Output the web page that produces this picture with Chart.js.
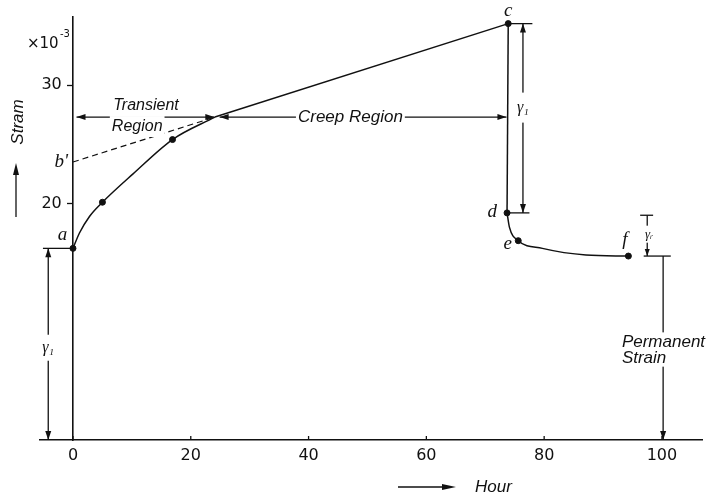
<!DOCTYPE html>
<html lang="en">
<head>
  <meta charset="UTF-8" />
  <title>Creep curve – strain vs hour</title>
  <script src="https://cdn.jsdelivr.net/npm/chart.js"></script>
  <style>
    html,body { margin:0; padding:0; background:#fff; }
    #chart    { display:block; }
  </style>
</head>
<body>
<canvas id="chart" width="707" height="500"></canvas>

<script>
  /* ---------- data (hour, strain x10^-3) ---------- */
  const transientHour   = [0, 1.1, 2.8, 5.0, 10.2, 16.9, 24.1];
  const transientStrain = [16.2, 17.5, 18.9, 20.1, 22.5, 25.4, 27.3];
  const creepHour       = [24.1, 73.9];
  const creepStrain     = [27.3, 35.2];
  const unloadHour      = [73.9, 73.7];
  const unloadStrain    = [35.2, 19.2];
  const recoveryHour    = [73.7, 74.1, 75.6, 79.7, 87.1, 94.3];
  const recoveryStrain  = [19.2, 18.0, 16.85, 16.2, 15.64, 15.55];
  const tangentHour     = [0, 24.1];
  const tangentStrain   = [23.5, 27.3];
  const markHour        = [0, 5.0, 16.9, 73.9, 73.7, 75.6, 94.3];
  const markStrain      = [16.2, 20.1, 25.4, 35.2, 19.2, 16.85, 15.55];
  const xTicks = [0, 20, 40, 60, 80, 100];
  const yTicks = [20, 30];

  const pts = (xs, ys) => xs.map((v, i) => ({ x: v, y: ys[i] }));
  const INK = '#111';
  const SANS = '"Liberation Sans", "DejaVu Sans", sans-serif';
  const DEJA = '"DejaVu Sans", sans-serif';
  const SERIF = '"Liberation Serif", "DejaVu Serif", serif';

  /* ---------- drawing helpers for the sketch notes ---------- */
  function seg(ctx, x1, y1, x2, y2) {
    ctx.beginPath(); ctx.moveTo(x1, y1); ctx.lineTo(x2, y2); ctx.stroke();
  }
  function head(ctx, x, y, dx, dy, len = 9, half = 3) {
    const nx = -dy, ny = dx;
    ctx.beginPath();
    ctx.moveTo(x, y);
    ctx.lineTo(x - dx*len + nx*half, y - dy*len + ny*half);
    ctx.lineTo(x - dx*len - nx*half, y - dy*len - ny*half);
    ctx.closePath(); ctx.fill();
  }
  function gapText(ctx, lines, cx, cy, font, lh, pad = 3) {
    ctx.font = font;
    const w = Math.max(...lines.map(t => ctx.measureText(t).width));
    const h = lh * lines.length;
    ctx.save(); ctx.fillStyle = '#fff';
    ctx.fillRect(cx - w/2 - pad, cy - h/2 - pad, w + 2*pad, h + 2*pad);
    ctx.restore();
    ctx.textAlign = 'center'; ctx.textBaseline = 'middle';
    lines.forEach((t, i) => ctx.fillText(t, cx, cy - h/2 + lh*(i + .5)));
  }

  const sketch = {
    id: 'sketch',
    afterDraw(chart) {
      const { ctx, scales: { x, y }, chartArea: ca } = chart;
      const X = v => x.getPixelForValue(v), Y = v => y.getPixelForValue(v);
      ctx.save();
      ctx.strokeStyle = INK; ctx.fillStyle = INK; ctx.lineWidth = 1.3;

      // small inward tick marks on the hour axis
      x.ticks.forEach(t => seg(ctx, X(t.value), ca.bottom, X(t.value), ca.bottom - 4));

      // transient region arrow
      const yr = Y(27.3);
      seg(ctx, X(0.6), yr, X(24.0), yr);
      head(ctx, X(0.6), yr, -1, 0); head(ctx, X(24.0), yr, 1, 0);
      gapText(ctx, ['Transient'], X(12.4), Y(28.3), `italic 16px ${SANS}`, 17, 2);
      gapText(ctx, ['Region'], X(10.9), Y(26.5), `italic 16px ${SANS}`, 17, 2);

      // creep region arrow
      seg(ctx, X(24.9), yr, X(73.6), yr);
      head(ctx, X(24.9), yr, -1, 0); head(ctx, X(73.6), yr, 1, 0);
      gapText(ctx, ['Creep Region'], X(47.1), yr, `italic 17px ${SANS}`, 18, 2);

      // elastic strain on loading
      const xl = X(-4.2);
      seg(ctx, X(-5.1), Y(16.2), X(0), Y(16.2));
      seg(ctx, xl, Y(16.2), xl, Y(0));
      head(ctx, xl, Y(16.2), 0, -1); head(ctx, xl, Y(0), 0, 1);
      gapText(ctx, ['γ₁'], xl, Y(7.8), `italic 16px ${SERIF}`, 22, 2);

      // elastic recovery on unloading
      const xr = X(76.4);
      seg(ctx, X(73.9), Y(35.2), X(78.0), Y(35.2));
      seg(ctx, X(73.7), Y(19.2), X(77.5), Y(19.2));
      seg(ctx, xr, Y(35.2), xr, Y(19.2));
      head(ctx, xr, Y(35.2), 0, -1); head(ctx, xr, Y(19.2), 0, 1);
      gapText(ctx, ['γ₁'], xr, Y(28.1), `italic 16px ${SERIF}`, 26, 2);

      // delayed recovery
      const xd = X(97.5);
      seg(ctx, X(96.3), Y(19.0), X(98.5), Y(19.0));
      seg(ctx, X(96.9), Y(15.55), X(101.5), Y(15.55));
      seg(ctx, xd, Y(19.0), xd, Y(15.55));
      head(ctx, xd, Y(15.55), 0, 1, 7, 2.5);
      gapText(ctx, ['γᵣ'], xd + 2, Y(17.4), `italic 13px ${SERIF}`, 15, 1);

      // permanent strain
      const xp = X(100.2);
      seg(ctx, xp, Y(15.55), xp, Y(0));
      head(ctx, xp, Y(0), 0, 1);
      ctx.font = `italic 17px ${SANS}`;
      ctx.save(); ctx.fillStyle = '#fff';
      ctx.fillRect(xp - 44, Y(9.1), 90, Y(6.2) - Y(9.1));
      ctx.restore();
      ctx.textAlign = 'left'; ctx.textBaseline = 'middle';
      ctx.fillText('Permanent', X(93.2), Y(8.3));
      ctx.fillText('Strain', X(93.2), Y(6.9));

      // point letters
      ctx.font = `italic 19px ${SERIF}`;
      ctx.textAlign = 'center'; ctx.textBaseline = 'middle';
      [['a', -1.8, 17.3], ["b'", -2.0, 23.5], ['c', 73.9, 36.3],
       ['d', 71.2, 19.3], ['e', 73.8, 16.6], ['f', 93.7, 16.9]]
        .forEach(([t, hx, sy]) => ctx.fillText(t, X(hx), Y(sy)));

      // axis titles
      ctx.font = `italic 17px ${SANS}`;
      ctx.save(); ctx.translate(18, 122); ctx.rotate(-Math.PI/2);
      ctx.fillText('Stram', 0, 0); ctx.restore();
      seg(ctx, 16, 217, 16, 170); head(ctx, 16, 163, 0, -1, 12, 3);

      ctx.textAlign = 'left'; ctx.textBaseline = 'alphabetic';
      ctx.font = `15px ${DEJA}`;
      ctx.fillText('×10', 27, 48);
      ctx.font = `10px ${DEJA}`;
      ctx.fillText('-3', 60, 37);

      ctx.font = `italic 17px ${SANS}`; ctx.textBaseline = 'middle';
      ctx.fillText('Hour', 475, 487);
      seg(ctx, 398, 487, 444, 487); head(ctx, 456, 487, 1, 0, 14, 3);
      ctx.restore();
    }
  };

  const line = (data, extra = {}) => Object.assign({
    data, showLine: true, borderColor: INK, borderWidth: 1.5,
    pointRadius: 0, fill: false
  }, extra);

  new Chart(document.getElementById('chart'), {
    type: 'scatter',
    data: {
      datasets: [
        line(pts(transientHour, transientStrain), { cubicInterpolationMode: 'monotone', tension: 0.4 }),
        line(pts(creepHour, creepStrain)),
        line(pts(unloadHour, unloadStrain)),
        line(pts(recoveryHour, recoveryStrain), { cubicInterpolationMode: 'monotone', tension: 0.4 }),
        line(pts(tangentHour, tangentStrain), { borderDash: [6, 4], borderWidth: 1.2 }),
        { data: pts(markHour, markStrain), showLine: false, pointRadius: 3,
          backgroundColor: INK, borderColor: INK }
      ]
    },
    options: {
      responsive: false, animation: false,
      layout: { padding: { left: 40, top: 17, right: 0, bottom: 0 } },
      plugins: { legend: { display: false }, tooltip: { enabled: false } },
      scales: {
        x: {
          type: 'linear', position: 'bottom', min: -5.6, max: 106.8,
          afterBuildTicks: s => { s.ticks = xTicks.map(v => ({ value: v })); },
          afterFit: s => { s.height = 60; },
          ticks: { color: INK, font: { size: 16, family: DEJA }, padding: 6,
                   maxRotation: 0, autoSkip: false },
          grid: { drawOnChartArea: false, drawTicks: false },
          border: { color: INK, width: 1.6 }
        },
        y: {
          type: 'linear', position: { x: 0 }, min: 0, max: 35.76,
          afterBuildTicks: s => { s.ticks = yTicks.map(v => ({ value: v })); },
          ticks: { color: INK, font: { size: 16, family: DEJA },
                   callback: v => v + '\u2002\u2009' },
          grid: { drawOnChartArea: false, tickLength: 5, tickColor: INK, tickWidth: 1.3 },
          border: { color: INK, width: 1.6 }
        }
      }
    },
    plugins: [sketch]
  });
</script>
</body>
</html>
